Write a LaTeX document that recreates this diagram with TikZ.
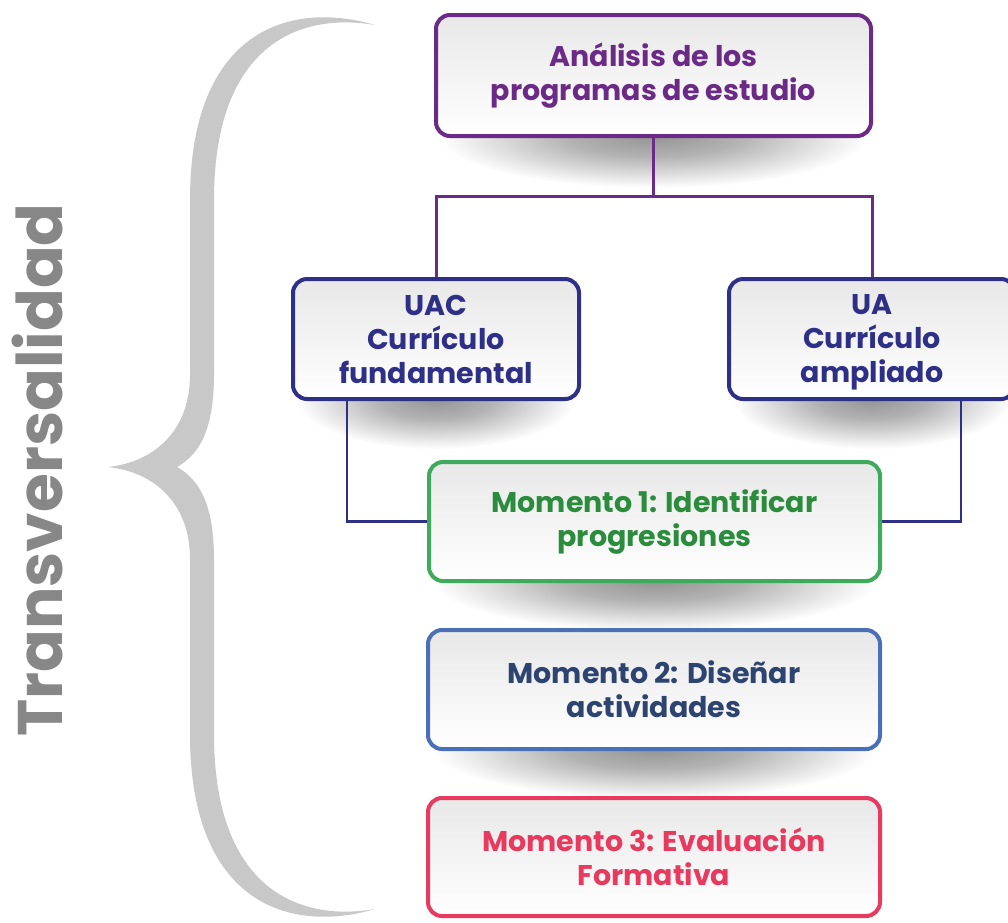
\documentclass[tikz,border=0pt]{standalone}
\usepackage{fontspec}
\setmainfont{Poppins}
\definecolor{purp}{HTML}{6B2A86}
\definecolor{navy}{HTML}{2E3088}
\definecolor{gborder}{HTML}{3DAA5C}
\definecolor{gtext}{HTML}{2A8C3C}
\definecolor{bborder}{HTML}{4B70B8}
\definecolor{btext}{HTML}{2D4470}
\definecolor{rcol}{HTML}{E8395F}
\definecolor{tgray}{HTML}{878787}
\definecolor{bgray}{HTML}{C8C8C8}
\pgfdeclarelayer{back}
\pgfsetlayers{back,main}
\pgfdeclareradialshading{boxshadow}{\pgfpoint{0bp}{0bp}}{color(0bp)=(black!42); color(10bp)=(black!30); color(25bp)=(white); color(50bp)=(white)}
\tikzset{
  box/.style={rectangle, rounded corners=14pt, line width=4pt, top color=black!9, bottom color=white,
    align=center, font=\bfseries\fontsize{28.5}{34}\selectfont, inner sep=0pt, minimum height=120},
  shad/.style={shading=boxshadow},
  purpline/.style={draw=purp, line width=3pt},
  navyline/.style={draw=navy, line width=2.6pt},
}
\begin{document}
\begin{tikzpicture}[x=1pt,y=-1pt]
\useasboundingbox (0,0) rectangle (1008,922);
\clip (0,0) rectangle (1008,922);

% brace
\fill[bgray] (375,25) .. controls (290,0) and (190,30) .. (190,200)
  -- (190,375) .. controls (190,430) and (155,462) .. (108,467)
  .. controls (155,472) and (190,504) .. (190,559)
  -- (190,734) .. controls (190,904) and (290,934) .. (375,909)
  .. controls (300,922) and (214,890) .. (214,734)
  -- (214,560) .. controls (214,505) and (200,480) .. (177,467)
  .. controls (200,454) and (214,429) .. (214,374)
  -- (214,200) .. controls (214,44) and (300,12) .. (375,25) -- cycle;

\node[rotate=90, text=tgray, font=\bfseries\fontsize{63}{63}\selectfont] (tv) at (38,470) {Transversalidad};

% shadows
\begin{pgfonlayer}{back}
\fill[white] (0,0) rectangle (1008,922);
\shade[shad] (653.5,136) ellipse [x radius=215, y radius=52];
\shade[shad] (436,399) ellipse [x radius=140, y radius=50];
\shade[shad] (872,399) ellipse [x radius=140, y radius=50];
\shade[shad] (654.5,581) ellipse [x radius=222, y radius=50];
\shade[shad] (654,749) ellipse [x radius=222, y radius=50];
\end{pgfonlayer}

\node[box, draw=purp, text=purp, minimum width=435, minimum height=121] (top) at (653.5,75.5) {Análisis de los\\programas de estudio};
\node[box, draw=navy, text=navy, minimum width=286] (uac) at (436,339) {UAC\\Currículo\\fundamental};
\node[box, draw=navy, text=navy, minimum width=286] (ua) at (872,339) {UA\\Currículo\\am\smash{p}liado};
\node[box, draw=gborder, text=gtext, minimum width=451, minimum height=119] (m1) at (654.5,521.5) {Momento 1: Identificar\\progresiones};
\node[box, draw=bborder, text=btext, minimum width=452, minimum height=119] (m2) at (654,689.5) {Momento 2: Diseñar\\actividades};
\node[box, draw=rcol, text=rcol, minimum width=452, minimum height=118] (m3) at (654,857) {Momento 3: Evaluación\\Formativa};

\begin{pgfonlayer}{back}
\coordinate (j) at (653.5,196);
\draw[purpline] (top.south) -- (j);
\draw[purpline] (uac.north) -- (uac.north |- j) -- (ua.north |- j) -- (ua.north);
\draw[navyline] ([xshift=-89pt]uac.south) |- (m1.west);
\draw[navyline] ([xshift=89pt]ua.south) |- (m1.east);
\end{pgfonlayer}
\end{tikzpicture}
\end{document}
